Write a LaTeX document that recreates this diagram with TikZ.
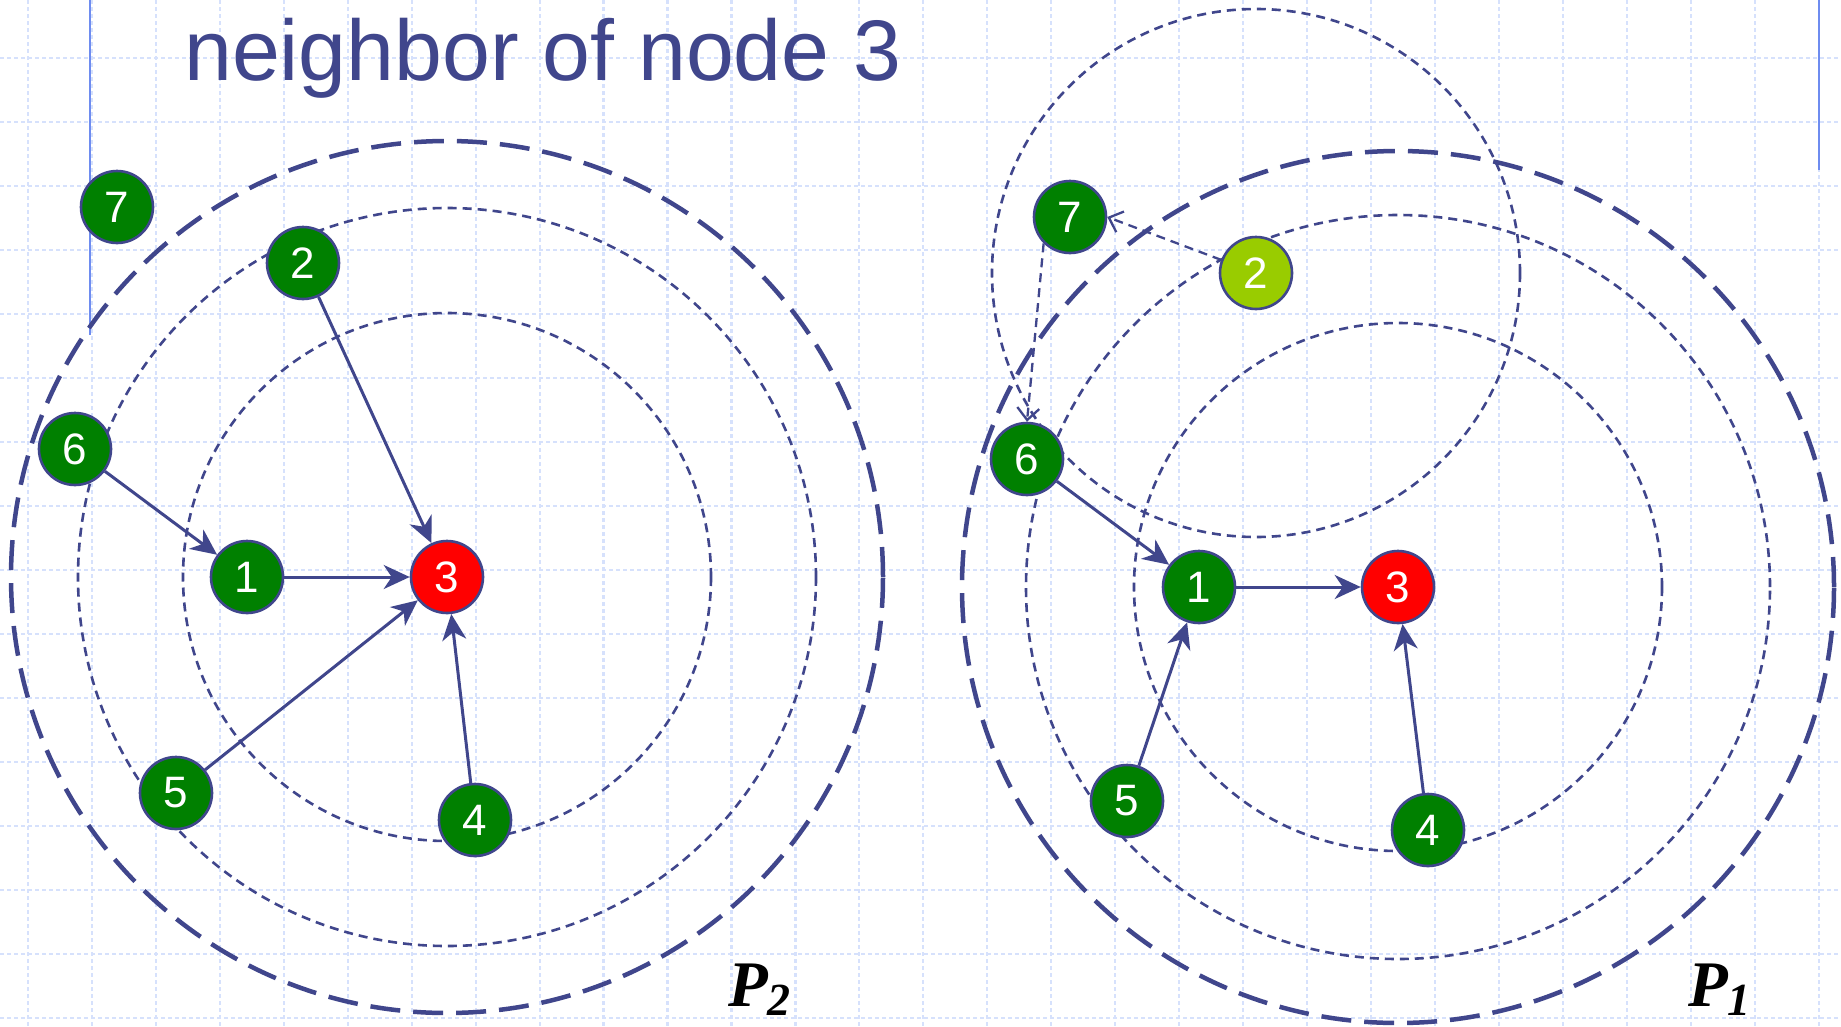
\documentclass[tikz,border=0pt]{standalone}
\usepackage{fontspec}
\setmainfont{Liberation Sans}
\newfontfamily\serifbi{Liberation Serif}
\usetikzlibrary{arrows.meta}
\definecolor{dblue}{RGB}{64,70,140}
\definecolor{gridc}{RGB}{214,225,252}
\definecolor{vline}{RGB}{110,140,240}
\definecolor{ngreen}{RGB}{0,128,0}
\definecolor{lgreen}{RGB}{153,204,0}
\definecolor{nred}{RGB}{255,0,0}
\begin{document}
\begin{tikzpicture}[x=1pt,y=-1pt,
 gridline/.style={gridc, line width=2.2pt, dash pattern=on 4pt off 3pt},
 sideline/.style={vline, line width=2.5pt},
 vnode/.style={circle, draw=dblue, line width=2.6pt, fill=ngreen, minimum size=72pt, inner sep=0pt, text=white, font=\fontsize{44}{44}\selectfont},
 srcnode/.style={vnode, fill=nred},
 lightnode/.style={vnode, fill=lgreen},
 linkedge/.style={dblue, line width=3pt, -{Stealth[length=26pt,width=24pt,inset=8pt]}},
 dlinkedge/.style={dblue, line width=2.3pt, dash pattern=on 9pt off 6pt, -{Straight Barb[length=12pt,width=22pt,line width=2.3pt]}},
 rangering/.style={dblue, line width=2.6pt, dash pattern=on 9pt off 6pt},
 bigring/.style={dblue, line width=4.5pt, dash pattern=on 30pt off 13pt},
 plabel/.style={anchor=base west, inner sep=0pt, text=black, font=\serifbi\bfseries\itshape\fontsize{65}{65}\selectfont},
]
\useasboundingbox (0,0) rectangle (1841,1026);
\fill[white] (0,0) rectangle (1841,1026);
% grid
\foreach \i in {0,...,28} \draw[gridline] ({28+63.95*\i},0) -- ({28+63.95*\i},1026);
\foreach \j in {0,...,15} \draw[gridline] (0,{58+64*\j}) -- (1841,{58+64*\j});
% side lines
\coordinate (sl1) at (90,0);
\coordinate (sl2) at (90,335);
\coordinate (sr1) at (1819,0);
\coordinate (sr2) at (1819,170);
\draw[sideline] (sl1) -- (sl2);
\draw[sideline] (sr1) -- (sr2);
% centres
\coordinate (cL3) at (447,577);
\coordinate (cR3) at (1398,587);
\coordinate (cR2) at (1256,273);
% ranges
\draw[bigring] (cL3) circle (436pt);
\draw[rangering] (cL3) circle (369pt);
\draw[rangering] (cL3) circle (264pt);
\draw[bigring] (cR3) circle (436pt);
\draw[rangering] (cR3) circle (372pt);
\draw[rangering] (cR3) circle (264pt);
\draw[rangering] (cR2) circle (264pt);
% left nodes
\node[vnode] (L7) at (117,207) {7};
\node[vnode] (L2) at (303,263) {2};
\node[vnode] (L6) at (75,449) {6};
\node[vnode] (L1) at (247,577) {1};
\node[srcnode] (L3) at (cL3) {3};
\node[vnode] (L5) at (176,793) {5};
\node[vnode] (L4) at (475,820) {4};
% right nodes
\node[vnode] (R7) at (1070,217) {7};
\node[lightnode] (R2) at (cR2) {2};
\node[vnode] (R6) at (1027,459) {6};
\node[vnode] (R1) at (1199,587) {1};
\node[srcnode] (R3) at (cR3) {3};
\node[vnode] (R5) at (1127,801) {5};
\node[vnode] (R4) at (1428,830) {4};
% left edges
\draw[linkedge] (L2) -- (L3);
\draw[linkedge] (L6) -- (L1);
\draw[linkedge] (L1) -- (L3);
\draw[linkedge] (L5) -- (L3);
\draw[linkedge] (L4) -- (L3);
% right edges
\draw[linkedge] (R6) -- (R1);
\draw[linkedge] (R1) -- (R3);
\draw[linkedge] (R5) -- (R1);
\draw[linkedge] (R4) -- (R3);
\draw[dlinkedge] (R2) -- (R7.east);
\draw[dlinkedge] (R7.-135) -- (R6.north);
% labels
\node[anchor=base west, inner sep=0pt, text=dblue, font=\fontsize{86}{86}\selectfont] (title) at (184,80) {neighbor of node 3};
\node[plabel] (P2) at (728,1006) {P\raisebox{-9pt}{\fontsize{46}{46}\selectfont 2}};
\node[plabel] (P1) at (1688,1006) {P\raisebox{-9pt}{\fontsize{46}{46}\selectfont 1}};
\end{tikzpicture}
\end{document}
